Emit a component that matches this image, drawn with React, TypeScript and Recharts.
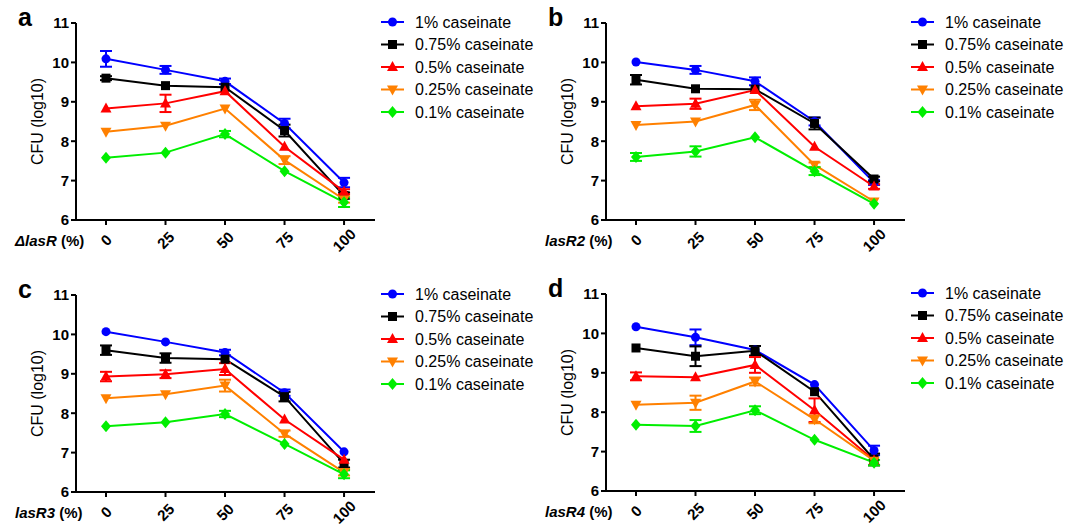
import React from 'react';
import { LineChart, Line, XAxis, YAxis, ErrorBar } from 'recharts';

const doses = [0, 25, 50, 75, 100];
const yTicks = [6, 7, 8, 9, 10, 11];
const seriesNames = ['1% caseinate', '0.75% caseinate', '0.5% caseinate', '0.25% caseinate', '0.1% caseinate'];
const seriesColors = ['#0000FF', '#000000', '#FF0000', '#FF8000', '#00EE00'];
const seriesShapes = ['circle', 'square', 'triangleUp', 'triangleDown', 'diamond'];

// mean CFU (log10) per series, one row per caseinate level
const meanA = [
  [10.09, 9.81, 9.52, 8.45, 6.95],
  [9.6, 9.41, 9.37, 8.27, 6.62],
  [8.83, 8.96, 9.27, 7.86, 6.72],
  [8.24, 8.39, 8.83, 7.52, 6.52],
  [7.58, 7.71, 8.18, 7.24, 6.45],
];
const errA = [
  [0.2, 0.1, 0.07, 0.12, 0.12],
  [0.05, 0, 0, 0.15, 0.08],
  [0, 0.22, 0, 0, 0.06],
  [0, 0, 0, 0.1, 0.08],
  [0, 0, 0.08, 0, 0.12],
];

const meanB = [
  [10.01, 9.81, 9.52, 8.5, 6.95],
  [9.56, 9.33, 9.32, 8.45, 7.04],
  [8.89, 8.95, 9.3, 7.86, 6.85],
  [8.41, 8.5, 8.92, 7.4, 6.47],
  [7.6, 7.74, 8.1, 7.24, 6.41],
];
const errB = [
  [0, 0.1, 0.1, 0.1, 0.06],
  [0.12, 0, 0, 0.15, 0.06],
  [0, 0.13, 0, 0, 0.06],
  [0, 0, 0.13, 0.06, 0],
  [0.1, 0.13, 0, 0.1, 0],
];

const meanC = [
  [10.07, 9.81, 9.54, 8.52, 7.02],
  [9.6, 9.4, 9.37, 8.42, 6.72],
  [8.93, 8.99, 9.12, 7.84, 6.82],
  [8.38, 8.48, 8.7, 7.48, 6.5],
  [7.67, 7.77, 7.98, 7.22, 6.45],
];
const errC = [
  [0, 0, 0.07, 0.08, 0],
  [0.12, 0.12, 0, 0.12, 0.1],
  [0.12, 0.1, 0.15, 0, 0],
  [0, 0, 0.15, 0.08, 0.08],
  [0, 0, 0.08, 0, 0.1],
];

const meanD = [
  [10.17, 9.9, 9.58, 8.7, 7.03],
  [9.63, 9.42, 9.56, 8.52, 6.8],
  [8.91, 8.89, 9.2, 8.05, 6.78],
  [8.19, 8.24, 8.78, 7.82, 6.77],
  [7.68, 7.65, 8.05, 7.3, 6.72],
];
const errD = [
  [0, 0.2, 0, 0, 0.12],
  [0, 0.25, 0.12, 0, 0.15],
  [0.1, 0, 0.2, 0.3, 0],
  [0, 0.18, 0.1, 0.1, 0],
  [0, 0.15, 0.1, 0, 0.07],
];

const FONT = '"Liberation Sans", Arial, Helvetica, sans-serif';

const buildRows = (mean: number[][], err: number[][]) =>
  doses.map((d, j) => {
    const row: Record<string, number> = { dose: d };
    mean.forEach((s, i) => {
      row[`m${i}`] = s[j];
      row[`e${i}`] = err[i][j];
    });
    return row;
  });

const Marker = ({ shape, cx, cy, color }: { shape: string; cx: number; cy: number; color: string }) => {
  if (shape === 'circle') return <circle cx={cx} cy={cy} r={4.5} fill={color} />;
  if (shape === 'square') return <rect x={cx - 4.5} y={cy - 4.5} width={9} height={9} fill={color} />;
  if (shape === 'triangleUp')
    return <polygon points={`${cx},${cy - 6} ${cx - 5.5},${cy + 4} ${cx + 5.5},${cy + 4}`} fill={color} />;
  if (shape === 'triangleDown')
    return <polygon points={`${cx},${cy + 6} ${cx - 5.5},${cy - 4} ${cx + 5.5},${cy - 4}`} fill={color} />;
  return <polygon points={`${cx},${cy - 6} ${cx + 5},${cy} ${cx},${cy + 6} ${cx - 5},${cy}`} fill={color} />;
};

const XTick = (props: any) => {
  const { x, y, payload } = props;
  const cy = y + 13;
  return (
    <text
      x={x}
      y={cy}
      textAnchor="middle"
      dominantBaseline="central"
      transform={`rotate(-45 ${x} ${cy})`}
      fontFamily={FONT}
      fontWeight="bold"
      fontSize={15}
      fill="#000"
    >
      {payload.value}
    </text>
  );
};

interface PanelProps {
  letter: string;
  strain: string;
  mean: number[][];
  err: number[][];
  left: number;
  top: number;
}

const Panel: React.FC<PanelProps> = ({ letter, strain, mean, err, left, top }) => {
  const rows = buildRows(mean, err);
  return (
    <div style={{ position: 'absolute', left, top, width: 539, height: 260 }}>
      <LineChart width={380} height={260} data={rows} margin={{ top: 23, right: 5, left: 0, bottom: 0 }}>
        <XAxis
          type="number"
          dataKey="dose"
          domain={[-12.6, 113]}
          ticks={doses}
          allowDataOverflow
          height={40}
          tickSize={5}
          tickMargin={2}
          stroke="#000"
          strokeWidth={2}
          tick={<XTick />}
        />
        <YAxis
          type="number"
          domain={[6, 11]}
          ticks={yTicks}
          width={76}
          tickSize={5}
          tickMargin={2}
          stroke="#000"
          strokeWidth={2}
          tick={{ fontFamily: FONT, fontWeight: 'bold', fontSize: 15, fill: '#000' }}
        />
        {seriesNames.map((name, i) => (
          <Line
            key={name}
            name={name}
            dataKey={`m${i}`}
            stroke={seriesColors[i]}
            strokeWidth={2}
            isAnimationActive={false}
            activeDot={false}
            dot={(p: any) => (
              <Marker key={`${name}-${p.index}`} shape={seriesShapes[i]} cx={p.cx} cy={p.cy} color={seriesColors[i]} />
            )}
          >
            <ErrorBar dataKey={`e${i}`} width={6} strokeWidth={2} stroke={seriesColors[i]} direction="y" />
          </Line>
        ))}
      </LineChart>
      <svg
        width={539}
        height={260}
        style={{ position: 'absolute', left: 0, top: 0, pointerEvents: 'none', overflow: 'visible' }}
        fontFamily={FONT}
      >
        <text x={18} y={26} fontSize={25} fontWeight="bold" fill="#000">
          {letter}
        </text>
        <text
          x={37}
          y={121.5}
          fontSize={16}
          textAnchor="middle"
          dominantBaseline="central"
          transform="rotate(-90 37 121.5)"
          fill="#000"
        >
          CFU (log10)
        </text>
        <text x={15} y={240} fontSize={15} fontWeight="bold" dominantBaseline="central" fill="#000">
          <tspan fontStyle="italic">{strain}</tspan>
          <tspan> (%)</tspan>
        </text>
        {seriesNames.map((name, i) => {
          const ly = 22 + i * 22.5;
          return (
            <g key={name}>
              <line x1={381} x2={404} y1={ly} y2={ly} stroke={seriesColors[i]} strokeWidth={2} />
              <Marker shape={seriesShapes[i]} cx={392.5} cy={ly} color={seriesColors[i]} />
              <text x={415} y={ly} fontSize={16} dominantBaseline="central" fill="#000">
                {name}
              </text>
            </g>
          );
        })}
      </svg>
    </div>
  );
};

const App: React.FC = () => (
  <div style={{ position: 'absolute', left: 0, top: 0, width: 1069, height: 527, background: '#fff' }}>
    <Panel letter="a" strain="ΔlasR" mean={meanA} err={errA} left={0} top={0} />
    <Panel letter="b" strain="lasR2" mean={meanB} err={errB} left={530} top={0} />
    <Panel letter="c" strain="lasR3" mean={meanC} err={errC} left={0} top={272} />
    <Panel letter="d" strain="lasR4" mean={meanD} err={errD} left={530} top={271} />
  </div>
);

export default App;
